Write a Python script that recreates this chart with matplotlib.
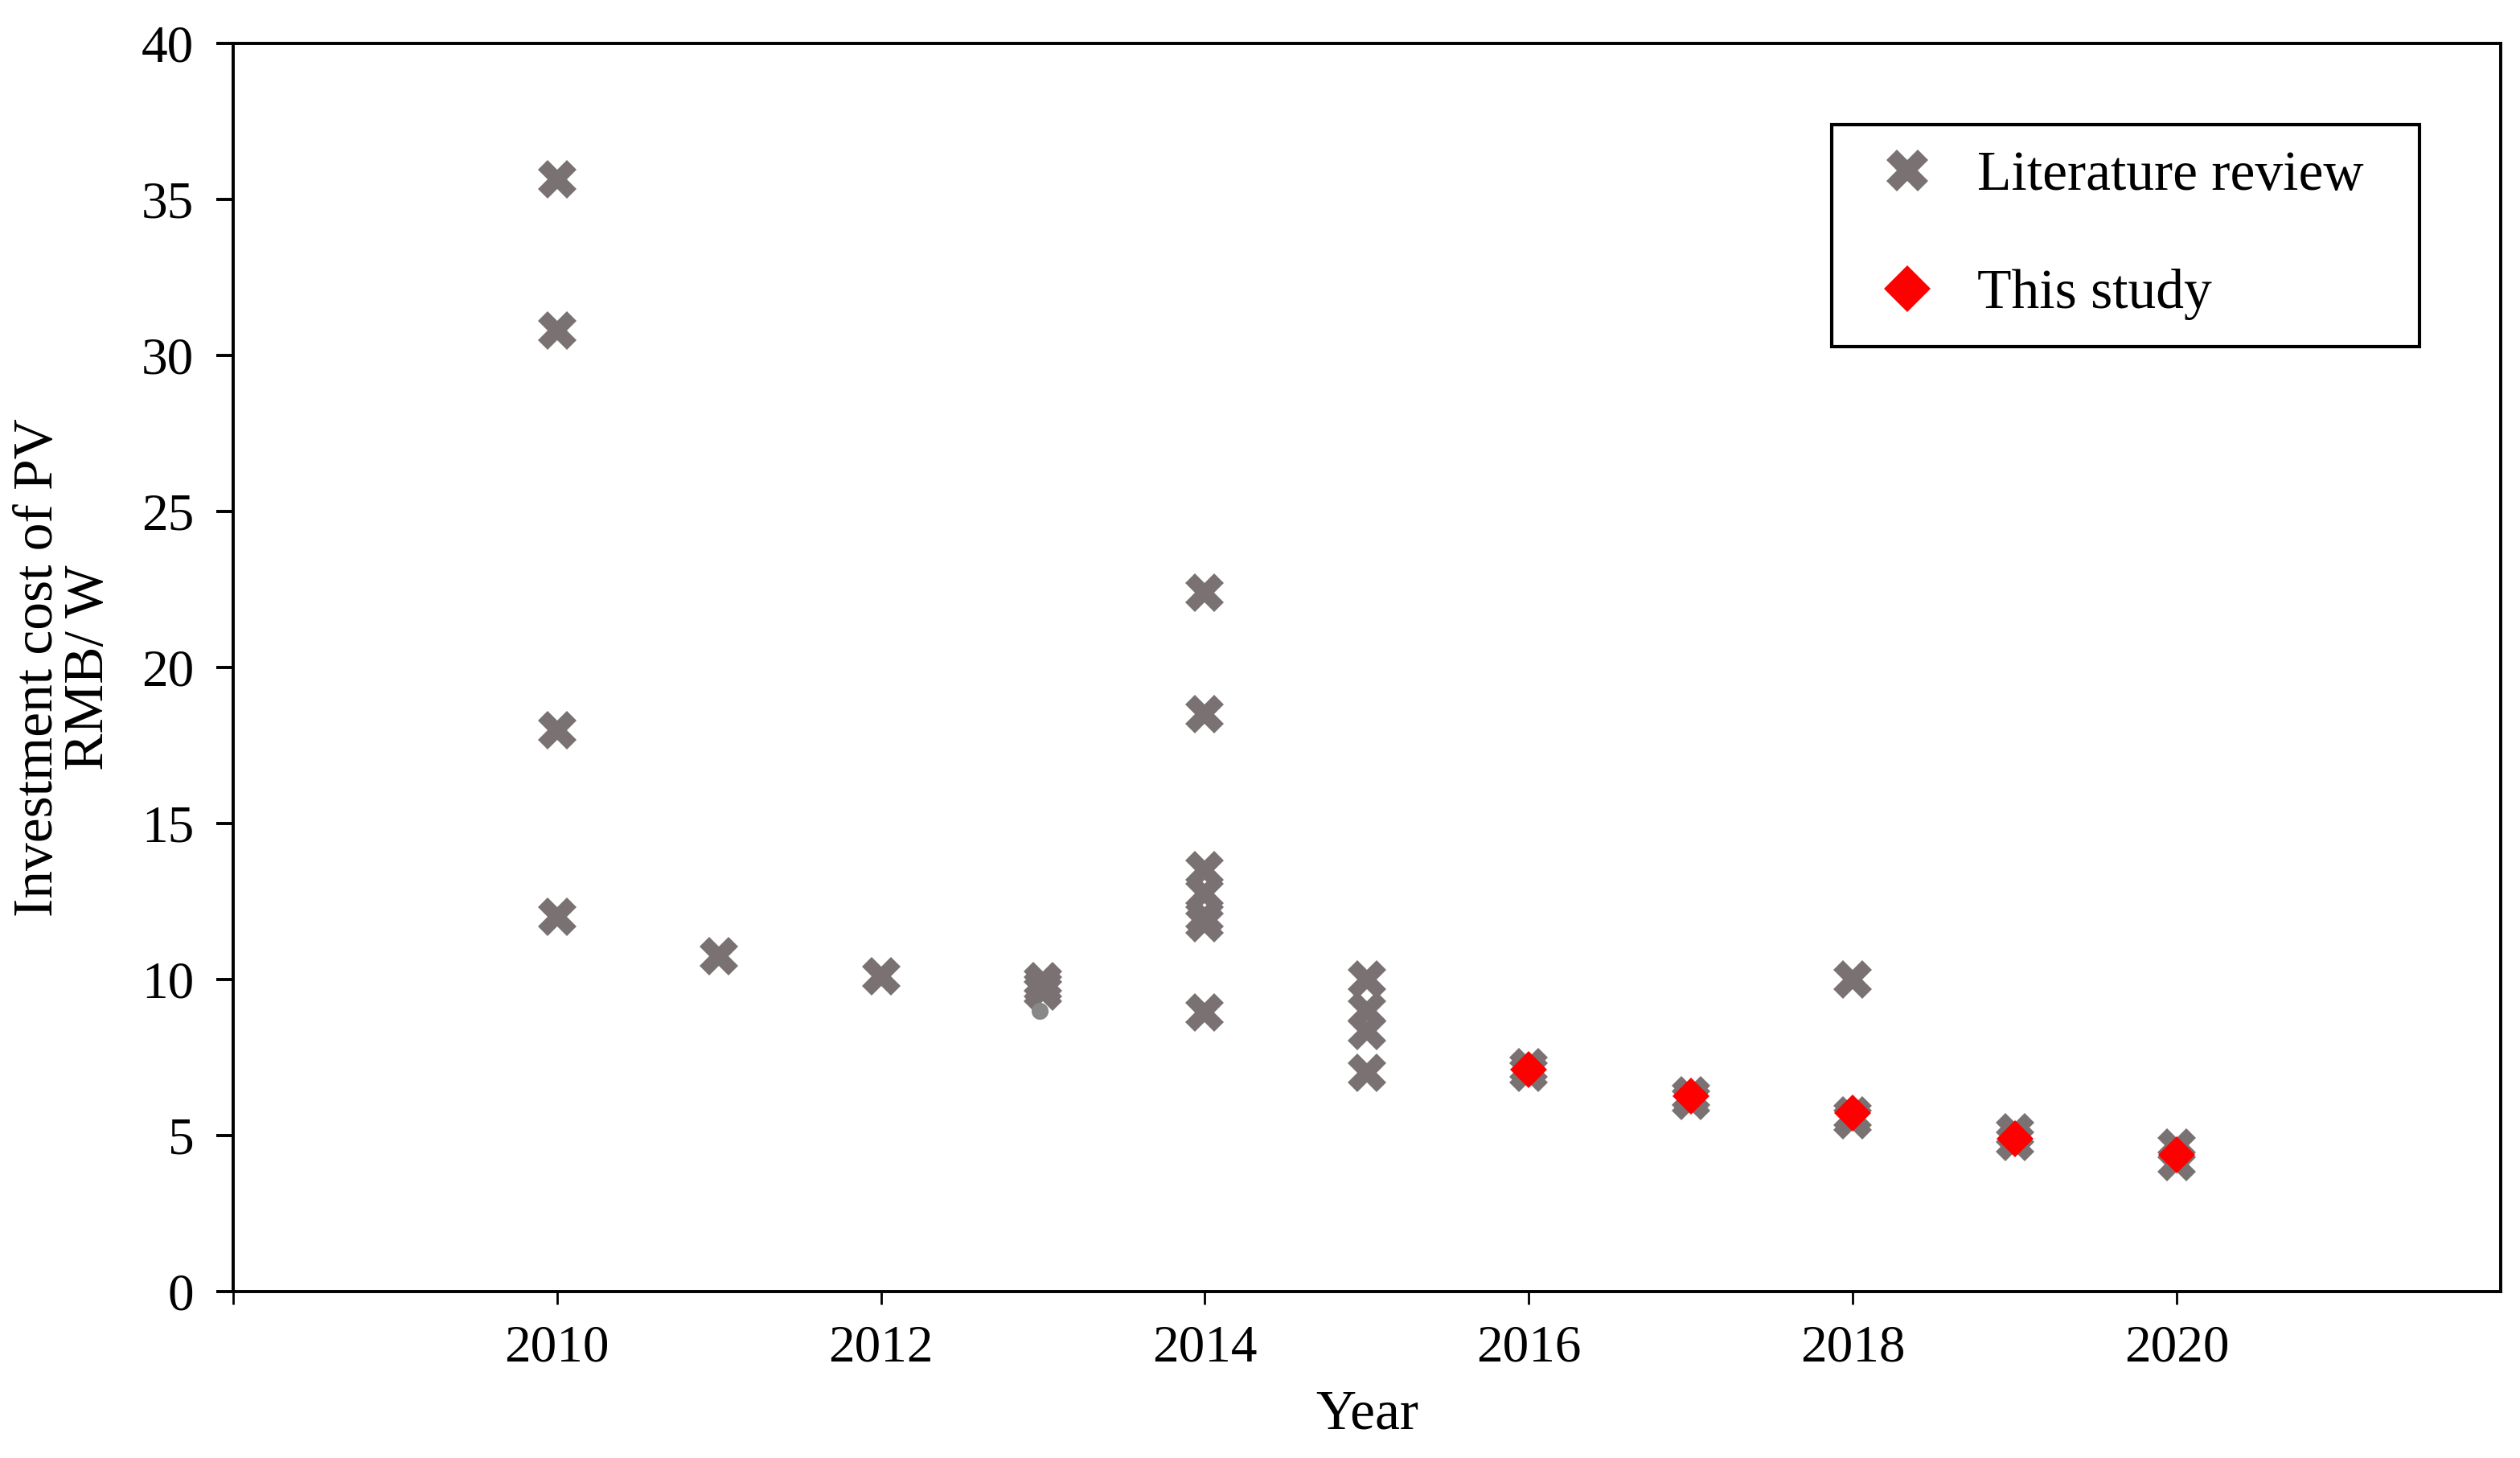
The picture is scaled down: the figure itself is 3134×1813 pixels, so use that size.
import matplotlib
matplotlib.use("Agg")
import matplotlib.pyplot as plt

plt.rcParams['font.family'] = ['Liberation Serif', 'DejaVu Serif']

# values
lit_years = [2010, 2010, 2010, 2010, 2011, 2012, 2013, 2013, 2013,
             2014, 2014, 2014, 2014, 2014, 2014, 2014,
             2015, 2015, 2015, 2015, 2016, 2016, 2017, 2017,
             2018, 2018, 2018, 2019, 2019, 2020, 2020]
lit_cost = [35.65, 30.8, 18.0, 12.0, 10.75, 10.1, 9.95, 9.78, 9.6,
            22.4, 18.5, 13.5, 12.75, 12.0, 11.8, 8.93,
            10.0, 9.0, 8.35, 7.0, 7.2, 7.0, 6.3, 6.1,
            10.0, 5.65, 5.5, 5.1, 4.8, 4.6, 4.15]

study_years = [2016, 2017, 2018, 2019, 2020]
study_cost = [7.1, 6.25, 5.72, 4.9, 4.37]

# small stray grey dot under the 2013 crosses
dot_years = [2012.98]
dot_cost = [9.0]

xticks = [2008, 2010, 2012, 2014, 2016, 2018, 2020]
xticklabels = ['', '2010', '2012', '2014', '2016', '2018', '2020']
yticks = [0, 5, 10, 15, 20, 25, 30, 35, 40]

fig = plt.figure(figsize=(15.67, 9.065), dpi=200)
ax = fig.add_axes([0.0925, 0.1142, 0.8998, 0.856])

grey = '#7a7272'
ax.plot(lit_years, lit_cost, linestyle='none', marker='X', ms=17, mew=0,
        color=grey, label='Literature review', zorder=3)
ax.plot(dot_years, dot_cost, linestyle='none', marker='o', ms=7.6, mew=0,
        color='#888888', zorder=4)
ax.plot(study_years, study_cost, linestyle='none', marker='D', ms=11.5, mew=0,
        color='#ff0000', label='This study', zorder=5)

ax.set_xlim(2008, 2022)
ax.set_ylim(0, 40)
ax.set_xticks(xticks)
ax.set_xticklabels(xticklabels)
ax.set_yticks(yticks)
ax.tick_params(axis='x', direction='out', length=5.8, width=1.0, pad=9, labelsize=23.5)
ax.tick_params(axis='y', direction='out', length=7.5, width=1.4, pad=10, labelsize=23.5)

for sp in ax.spines.values():
    sp.set_linewidth(1.4)
    sp.set_color('black')

ax.set_xlabel('Year', fontsize=25, va='center')
ax.xaxis.set_label_coords(0.5, -0.099)
ax.set_ylabel('Investment cost of PV\nRMB/ W', fontsize=25, va='center',
              linespacing=1.0)
ax.yaxis.set_label_coords(-0.0745, 0.5)

leg = ax.legend(loc='upper left', bbox_to_anchor=(0.705, 0.5, 0.2592, 0.4349),
                mode='expand', borderaxespad=0, fontsize=25, frameon=True,
                fancybox=False, framealpha=1, edgecolor='black',
                borderpad=0.47, labelspacing=1.19, handlelength=1.76,
                handletextpad=0.38)
leg.get_frame().set_linewidth(1.5)
leg.legend_handles[0].set_markersize(18.7)
leg.legend_handles[1].set_markersize(14.8)

fig.savefig('out.png', dpi=200)
